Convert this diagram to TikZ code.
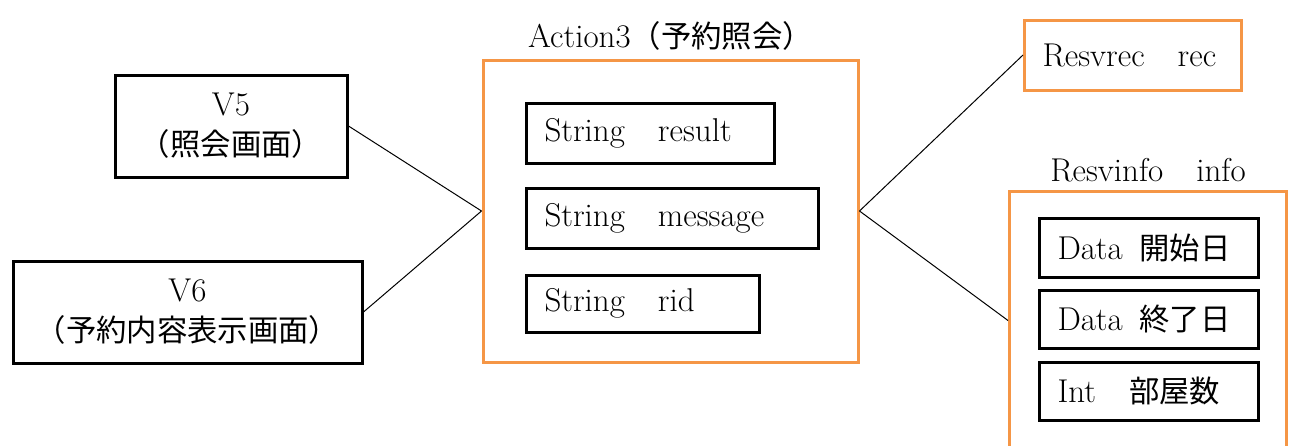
\documentclass[tikz,border=0pt]{standalone}
\usepackage{fontspec}
\newfontfamily\jpfont[Scale=0.92]{Noto Sans CJK JP}
\usetikzlibrary{positioning}
\definecolor{RSVorange}{RGB}{245,150,70}
\tikzset{
  rsv text/.style={font=\fontsize{16.5}{20}\selectfont},
  rsv view/.style={
    rsv text,
    draw=black,
    line width=1.5pt,
    fill=white,
    minimum height=51pt,
    align=center,
    inner sep=3pt
  },
  rsv frame/.style={
    draw=RSVorange,
    line width=1.5pt,
    fill=white
  },
  rsv field/.style={
    rsv text,
    draw=black,
    line width=1.5pt,
    fill=white,
    anchor=west,
    align=left,
    inner xsep=9pt,
    inner ysep=0pt,
    minimum height=30pt
  },
  rsv object/.style={rsv field,draw=RSVorange,minimum height=35pt},
  rsv caption/.style={rsv text,inner sep=2pt},
  rsv link/.style={line width=0.5pt,draw=black}
}

\begin{document}
\begin{tikzpicture}[x=0.5pt,y=-0.5pt]
  \useasboundingbox (0,0) rectangle (1291,445);

  % views on the left
  \node[rsv view,minimum width=116pt] (v5) at (231,126)
    {V5\\{\jpfont （照会画面）}};
  \node[rsv view,minimum width=174.5pt] (v6) at (187.5,312)
    {V6\\{\jpfont （予約内容表示画面）}};

  % action and its fields
  \node[rsv frame,minimum width=187.5pt,minimum height=151pt] (action) at (670.5,211) {};
  \node[rsv caption,above=2pt of action] (action-title)
    {Action3{\jpfont （予約照会）}};
  \node[rsv field,text width=106pt] (result) at (525,133) {String\quad result};
  \node[rsv field,text width=128pt] (message) at (525,218) {String\quad message};
  \node[rsv field,text width=98.5pt,minimum height=28.5pt] (rid) at (525,303.5) {String\quad rid};

  % objects on the right
  \node[rsv object,text width=90.5pt] (rec) at (1023,55) {Resvrec\quad rec};
  \node[rsv frame,anchor=north west,minimum width=138.5pt,minimum height=129pt] (info) at (1008,190) {};
  \node[rsv caption,above=2pt of info] (info-title) {Resvinfo\quad info};
  \node[rsv field,text width=91.5pt,minimum height=29.5pt] (start) at (1038,247.5)
    {Data\enspace{\jpfont 開始日}};
  \node[rsv field,text width=91.5pt,minimum height=29pt] (end) at (1038,319)
    {Data\enspace{\jpfont 終了日}};
  \node[rsv field,text width=91.5pt,minimum height=29pt] (rooms) at (1038,391)
    {Int\quad{\jpfont 部屋数}};

  % connectors
  \draw[rsv link] (v5.east) -- (action.west);
  \draw[rsv link] (v6.east) -- (action.west);
  \draw[rsv link] (action.east) -- (rec.west);
  \draw[rsv link] (action.east) -- (info.west);
\end{tikzpicture}
\end{document}
